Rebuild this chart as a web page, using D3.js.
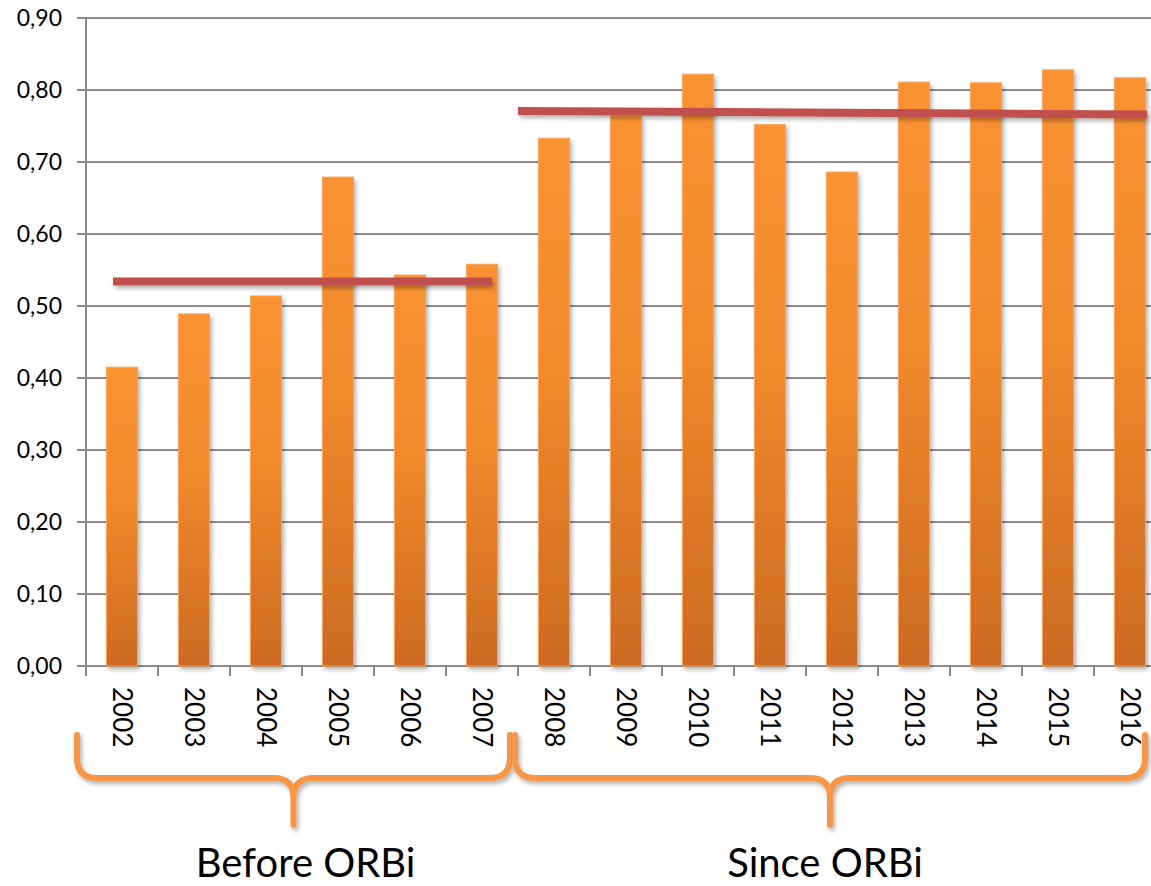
<!DOCTYPE html>
<html>
<head>
<meta charset="utf-8">
<script src="https://cdn.jsdelivr.net/npm/d3@7"></script>
<style>
  body { margin: 0; background: #fff; }
  svg { display: block; font-family: Lato, "Open Sans", sans-serif; }
</style>
</head>
<body>
<div class="chart"></div>
<script>
// data
const years = ['2002','2003','2004','2005','2006','2007','2008','2009','2010','2011','2012','2013','2014','2015','2016'];
const values = [0.415, 0.489, 0.514, 0.679, 0.543, 0.558, 0.733, 0.764, 0.822, 0.752, 0.686, 0.811, 0.810, 0.828, 0.817];
const yTicks = [0, 0.1, 0.2, 0.3, 0.4, 0.5, 0.6, 0.7, 0.8, 0.9];
// average lines: start year, end year, value at start, value at end
const avgFrom = ['2002', '2008'];
const avgTo = ['2007', '2016'];
const avgStart = [0.534, 0.771];
const avgEnd = [0.534, 0.766];
const groupLabels = ['Before ORBi', 'Since ORBi'];
const groupFirst = ['2002', '2008'];
const groupLast = ['2007', '2016'];

const width = 1151, height = 886;
const svg = d3.select('.chart').append('svg')
  .attr('width', width)
  .attr('height', height);

const defs = svg.append('defs');
const grad = defs.append('linearGradient')
  .attr('id', 'barGrad')
  .attr('x1', 0).attr('y1', 0).attr('x2', 0).attr('y2', 1);
grad.append('stop').attr('offset', '0%').attr('stop-color', '#fb9232');
grad.append('stop').attr('offset', '45%').attr('stop-color', '#f08a2c');
grad.append('stop').attr('offset', '100%').attr('stop-color', '#cd6a21');

// user space filter so flat lines (zero height bbox) still render
const shadow = defs.append('filter').attr('id', 'shadow')
  .attr('filterUnits', 'userSpaceOnUse')
  .attr('x', 0).attr('y', 0).attr('width', width).attr('height', height);
shadow.append('feDropShadow')
  .attr('dx', 2).attr('dy', 3).attr('stdDeviation', 2)
  .attr('flood-color', '#000').attr('flood-opacity', 0.3);

const x = d3.scaleBand().domain(years).range([86, 1166]).padding(0);
const y = d3.scaleLinear().domain([0, 0.9]).range([666, 18]);
const fmt = d3.formatLocale({decimal: ',', thousands: '.', grouping: [3], currency: ['', '€']}).format('.2f');

// gridlines
svg.append('g').selectAll('line')
  .data(yTicks)
  .enter()
  .append('line')
  .attr('x1', 77)
  .attr('x2', width)
  .attr('y1', d => y(d))
  .attr('y2', d => y(d))
  .attr('stroke', '#8c8c8c')
  .attr('stroke-width', 2);

svg.append('g').selectAll('text')
  .data(yTicks)
  .enter()
  .append('text')
  .attr('x', 62)
  .attr('y', d => y(d))
  .attr('dy', '0.36em')
  .attr('text-anchor', 'end')
  .attr('font-size', '23px')
  .attr('fill', '#000')
  .text(d => fmt(d));

// bottom ticks
svg.append('g').selectAll('line')
  .data(years.concat(['end']))
  .enter()
  .append('line')
  .attr('x1', (d, i) => x.range()[0] + i * x.step())
  .attr('x2', (d, i) => x.range()[0] + i * x.step())
  .attr('y1', y(0))
  .attr('y2', y(0) + 10)
  .attr('stroke', '#8c8c8c')
  .attr('stroke-width', 2);

// y axis line
svg.append('line')
  .attr('x1', 86).attr('x2', 86)
  .attr('y1', y(0.9)).attr('y2', y(0) + 10)
  .attr('stroke', '#8c8c8c')
  .attr('stroke-width', 2);

// bars
const barW = x.bandwidth() * 0.43;
svg.append('g').selectAll('rect')
  .data(years)
  .enter()
  .append('rect')
  .attr('x', d => x(d) + (x.bandwidth() - barW) / 2)
  .attr('y', (d, i) => y(values[i]))
  .attr('width', barW)
  .attr('height', (d, i) => y(0) - y(values[i]))
  .attr('fill', 'url(#barGrad)')
  .attr('stroke', '#f9a65c')
  .attr('stroke-width', 1)
  .attr('filter', 'url(#shadow)');

// average lines
svg.append('g').selectAll('line')
  .data(avgFrom)
  .enter()
  .append('line')
  .attr('x1', (d, i) => i == 0 ? x(d) + x.bandwidth() / 2 - 9 : x(d))
  .attr('x2', (d, i) => i == 0 ? x(avgTo[i]) + x.bandwidth() / 2 + 10 : x(avgTo[i]) + x.bandwidth() / 2 + 17)
  .attr('y1', (d, i) => y(avgStart[i]))
  .attr('y2', (d, i) => y(avgEnd[i]))
  .attr('stroke', '#c0504d')
  .attr('stroke-width', 8)
  .attr('filter', 'url(#shadow)');

// year labels, rotated
svg.append('g').selectAll('text')
  .data(years)
  .enter()
  .append('text')
  .attr('transform', d => `translate(${x(d) + x.bandwidth() / 2},687) rotate(90)`)
  .attr('dy', '0.36em')
  .attr('text-anchor', 'start')
  .attr('font-size', '26px')
  .attr('fill', '#000')
  .text(d => d);

// braces
const braceTop = 735, braceMid = 778, braceTip = 825, r = 20;
function brace(x0, x1) {
  const xm = (x0 + x1) / 2;
  const p = d3.path();
  p.moveTo(x0, braceTop);
  p.lineTo(x0, braceMid - r);
  p.quadraticCurveTo(x0, braceMid, x0 + r, braceMid);
  p.lineTo(xm - r, braceMid);
  p.quadraticCurveTo(xm, braceMid, xm, braceMid + r);
  p.lineTo(xm, braceTip);
  p.moveTo(xm, braceMid + r);
  p.quadraticCurveTo(xm, braceMid, xm + r, braceMid);
  p.lineTo(x1 - r, braceMid);
  p.quadraticCurveTo(x1, braceMid, x1, braceMid - r);
  p.lineTo(x1, braceTop);
  return p.toString();
}
const braceEnds = groupFirst.map((d, i) => i == 0
  ? [x(d) - 9, x(groupLast[i]) + x.bandwidth() - 8]
  : [x(d) - 3, x(groupLast[i]) + x.bandwidth() - 21]);

svg.append('g').selectAll('path')
  .data(braceEnds)
  .enter()
  .append('path')
  .attr('d', d => brace(d[0], d[1]))
  .attr('fill', 'none')
  .attr('stroke', '#f79646')
  .attr('stroke-width', 6)
  .attr('stroke-linecap', 'round')
  .attr('filter', 'url(#shadow)');

svg.append('g').selectAll('text')
  .data(groupLabels)
  .enter()
  .append('text')
  .attr('x', (d, i) => (braceEnds[i][0] + braceEnds[i][1]) / 2 + (i == 0 ? 12 : -5))
  .attr('y', 877)
  .attr('text-anchor', 'middle')
  .attr('font-size', '40px')
  .attr('fill', '#000')
  .text(d => d);
</script>
</body>
</html>
